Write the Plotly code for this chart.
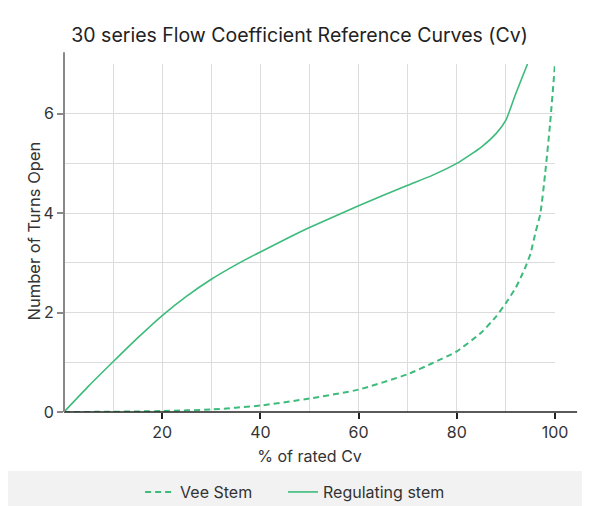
import plotly.graph_objects as go

# Valores
cv_vee = [0, 10, 20, 30, 40, 50, 60, 70, 75, 80, 85, 88, 90, 92, 93, 94, 95, 96, 97, 98, 99, 100]
turns_vee = [0, 0.005, 0.02, 0.05, 0.13, 0.27, 0.45, 0.76, 0.98, 1.22, 1.6, 1.92, 2.19, 2.5, 2.7, 2.92, 3.18, 3.6, 3.98, 4.8, 5.8, 7.0]

cv_reg = [0, 5, 10, 15, 20, 25, 30, 35, 40, 45, 50, 60, 70, 75, 80, 85, 88, 90, 92, 94.4]
turns_reg = [0, 0.52, 1.01, 1.49, 1.94, 2.33, 2.67, 2.96, 3.22, 3.47, 3.71, 4.15, 4.56, 4.76, 5.0, 5.33, 5.6, 5.87, 6.4, 7.0]

x_ticks = [20, 40, 60, 80, 100]
y_ticks = [0, 2, 4, 6]

VERDE = "#3dbb7b"
TEXTO = "#333333"
GRADE = "#dcdcdc"
FONTE = "Inter, Roboto, sans-serif"

fig = go.Figure()

fig.add_trace(go.Scatter(
    x=cv_vee, y=turns_vee, name="Vee Stem", mode="lines",
    line=dict(color=VERDE, width=2, dash="6px,4px", shape="spline", smoothing=0.5),
    legend="legend", showlegend=True,
))
fig.add_trace(go.Scatter(
    x=cv_reg, y=turns_reg, name="Regulating stem", mode="lines",
    line=dict(color=VERDE, width=1.6, shape="spline", smoothing=0.5),
    legend="legend2", showlegend=True,
))

# moldura do cartão, faixa da legenda e linhas dos eixos
fig.add_shape(type="rect", xref="paper", yref="paper", layer="below",
              x0=-0.116, x1=1.2, y0=1.164, y1=-0.4,
              line=dict(color="#e6e6e6", width=1), fillcolor="white")
fig.add_shape(type="rect", xref="paper", yref="paper", layer="below",
              x0=-0.114, x1=1.2, y0=-0.1695, y1=-0.4,
              line=dict(width=0), fillcolor="#f2f2f2")
fig.add_shape(type="line", xref="paper", yref="paper",
              x0=0, x1=1.045, y0=0, y1=0,
              line=dict(color="#222222", width=1.5))
fig.add_shape(type="line", xref="paper", yref="paper",
              x0=0, x1=0, y0=0, y1=1.034,
              line=dict(color="#888888", width=2))

# título do eixo y como anotação, para acertar a posição
fig.add_annotation(
    text="Number of Turns Open", textangle=-90,
    xref="paper", yref="paper", x=-0.061, y=0.519,
    xanchor="center", yanchor="middle", showarrow=False,
    font=dict(size=16.5, color=TEXTO),
)

LEGENDA = dict(
    orientation="h", xanchor="left", y=-0.23, yanchor="middle",
    font=dict(size=16, color=TEXTO), bgcolor="rgba(0,0,0,0)", itemwidth=30,
)

# a página tem 8px de margem no body: figura compensada
fig.update_layout(
    width=582, height=498,
    paper_bgcolor="white", plot_bgcolor="white",
    font=dict(family=FONTE, color=TEXTO, size=15),
    margin=dict(l=56, r=35, t=56, b=94, autoexpand=False),
    title=dict(
        text="30 series Flow Coefficient Reference Curves (Cv)",
        x=0.5009, xanchor="center", y=0.9458, yanchor="middle",
        font=dict(size=19.5, color="#222222"),
    ),
    xaxis=dict(
        range=[0, 100], tickvals=x_ticks, showline=False, zeroline=False,
        automargin=False,
        ticks="outside", ticklen=6, tickcolor="#222222", tickwidth=1.5,
        showgrid=True, gridcolor=GRADE, gridwidth=1,
        minor=dict(dtick=10, tick0=0, showgrid=True, gridcolor=GRADE, gridwidth=1),
        title=dict(text="% of rated Cv", font=dict(size=16), standoff=9),
        tickfont=dict(size=16, color=TEXTO),
    ),
    yaxis=dict(
        range=[0, 7], tickvals=y_ticks, showline=False, zeroline=False,
        automargin=False,
        ticks="outside", ticklen=6, tickcolor="#888888", tickwidth=1.5,
        showgrid=True, gridcolor=GRADE, gridwidth=1,
        minor=dict(dtick=1, tick0=0, showgrid=True, gridcolor=GRADE, gridwidth=1),
        tickfont=dict(size=16, color=TEXTO),
    ),
    legend=dict(LEGENDA, x=0.155),
    legend2=dict(LEGENDA, x=0.446),
)

fig.write_html("out.html")
